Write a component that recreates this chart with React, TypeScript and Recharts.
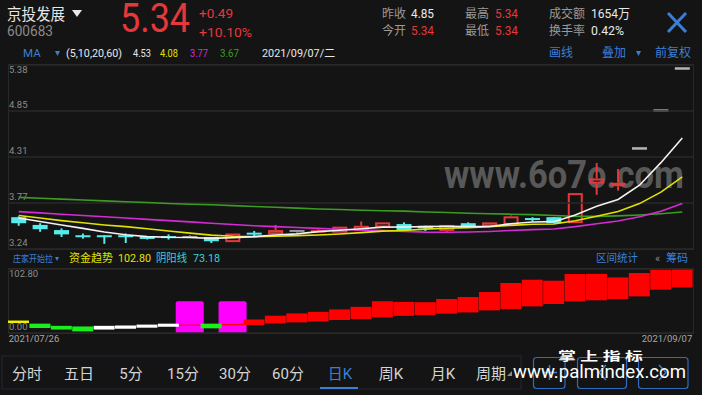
import React from 'react';
import { ComposedChart, Bar, Line, XAxis, YAxis, ReferenceLine, Cell } from 'recharts';

// ---------- data ----------
const dates = [
  '2021/07/26', '2021/07/27', '2021/07/28', '2021/07/29', '2021/07/30',
  '2021/08/02', '2021/08/03', '2021/08/04', '2021/08/05', '2021/08/06',
  '2021/08/09', '2021/08/10', '2021/08/11', '2021/08/12', '2021/08/13',
  '2021/08/16', '2021/08/17', '2021/08/18', '2021/08/19', '2021/08/20',
  '2021/08/23', '2021/08/24', '2021/08/25', '2021/08/26', '2021/08/27',
  '2021/08/30', '2021/08/31', '2021/09/01', '2021/09/02', '2021/09/03',
  '2021/09/06', '2021/09/07',
];
const opens = [3.61, 3.52, 3.46, 3.40, 3.40, 3.40, 3.38, 3.39, 3.38, 3.38, 3.32, 3.43, 3.41, 3.45, 3.45, 3.43, 3.45, 3.49, 3.53, 3.51, 3.45, 3.54, 3.50, 3.52, 3.60, 3.61, 3.54, 4.00, 3.97, 4.41, 4.85, 5.34];
const highs = [3.62, 3.54, 3.48, 3.42, 3.40, 3.42, 3.38, 3.41, 3.40, 3.38, 3.42, 3.45, 3.52, 3.46, 3.47, 3.50, 3.56, 3.55, 3.55, 3.51, 3.52, 3.55, 3.55, 3.63, 3.61, 3.61, 3.89, 4.24, 4.17, 4.41, 4.85, 5.34];
const lows = [3.51, 3.44, 3.38, 3.36, 3.30, 3.31, 3.35, 3.35, 3.37, 3.31, 3.32, 3.38, 3.41, 3.43, 3.44, 3.43, 3.45, 3.49, 3.46, 3.45, 3.44, 3.50, 3.50, 3.52, 3.56, 3.54, 3.54, 3.87, 3.92, 4.41, 4.85, 5.34];
const closes = [3.54, 3.47, 3.41, 3.39, 3.38, 3.38, 3.36, 3.37, 3.38, 3.33, 3.42, 3.42, 3.46, 3.45, 3.46, 3.50, 3.51, 3.55, 3.46, 3.48, 3.52, 3.50, 3.55, 3.62, 3.58, 3.54, 3.89, 4.06, 4.01, 4.41, 4.85, 5.34];

const ma5 = [3.60, 3.56, 3.52, 3.48, 3.438, 3.406, 3.384, 3.376, 3.374, 3.364, 3.372, 3.384, 3.402, 3.416, 3.442, 3.458, 3.476, 3.494, 3.496, 3.50, 3.504, 3.502, 3.502, 3.534, 3.554, 3.558, 3.636, 3.738, 3.816, 3.982, 4.244, 4.53];
const ma10 = [3.63, 3.60, 3.57, 3.545, 3.52, 3.50, 3.475, 3.45, 3.425, 3.401, 3.389, 3.384, 3.389, 3.395, 3.403, 3.415, 3.430, 3.448, 3.456, 3.471, 3.481, 3.489, 3.498, 3.515, 3.527, 3.531, 3.569, 3.620, 3.675, 3.768, 3.901, 4.08];
const ma20 = [3.675, 3.66, 3.645, 3.63, 3.615, 3.60, 3.585, 3.57, 3.555, 3.54, 3.525, 3.51, 3.50, 3.49, 3.48, 3.47, 3.46, 3.455, 3.445, 3.436, 3.435, 3.437, 3.444, 3.455, 3.465, 3.473, 3.50, 3.534, 3.566, 3.615, 3.68, 3.77];
const ma60 = [3.84, 3.83, 3.82, 3.81, 3.80, 3.79, 3.78, 3.77, 3.76, 3.755, 3.745, 3.735, 3.725, 3.715, 3.705, 3.70, 3.69, 3.685, 3.68, 3.67, 3.665, 3.655, 3.65, 3.645, 3.64, 3.63, 3.62, 3.62, 3.625, 3.635, 3.65, 3.67];

const priceTicks = [5.38, 4.845, 4.31, 3.775, 3.24];
const priceTickLabels = ['5.38', '4.85', '4.31', '3.77', '3.24'];

const fundTrend = [20, 15, 11.5, 10.5, 11.5, 12, 13.5, 15, 13.5, 15, 14.5, 21.8, 27.8, 31.5, 34, 37.9, 42, 51, 50, 49.5, 54.6, 57.8, 65.8, 80.3, 85.6, 84, 94.8, 95, 89.3, 96.4, 101.7, 102.8];
const yinYang = [16, 8, 5.5, 2.6, 5.5, 7, 8.5, 10, 12, 7.5, 12.5, 12.8, 15.4, 17, 18.5, 20.9, 22.5, 25, 27.5, 29, 31, 33, 36.3, 38.5, 42.7, 46.6, 50.7, 52.5, 54.6, 58.8, 69.5, 73.18];
const bandState = ['start', 'fall', 'fall', 'fall', 'hold', 'hold', 'hold', 'hold', 'rise', 'fall', 'rise', 'rise', 'rise', 'rise', 'rise', 'rise', 'rise', 'rise', 'rise', 'rise', 'rise', 'rise', 'rise', 'rise', 'rise', 'rise', 'rise', 'rise', 'rise', 'rise', 'rise', 'rise'];
const startSignal = [0, 0, 0, 0, 0, 0, 0, 0, 1, 0, 1, 0, 0, 0, 0, 0, 0, 0, 0, 0, 0, 0, 0, 0, 0, 0, 0, 0, 0, 0, 0, 0];
const signalTop = 51;
const flowTicks = [102.8, 0];
const flowTickLabels = ['102.80', '0.00'];

const tabs = ['分时', '五日', '5分', '15分', '30分', '60分', '日K', '周K', '月K', '周期'];
const activeTab = '日K';

// ---------- styles ----------
const FONT = 'Roboto, "Noto Sans CJK SC", "Noto Sans", sans-serif';
const BG = '#141414';
const GRID = '#282828';
const BLUE = '#3a7fd6';
const RED = '#e5383a';
const CYAN = '#55ecec';
const WHITE = '#e8e8e8';
const AXIS_TXT = '#8c8c8c';
const stateColor: Record<string, string> = { start: '#f0f000', fall: '#19f019', hold: '#ffffff', rise: '#ff0000' };

const mainData = dates.map((d, i) => ({
  date: d, open: opens[i], high: highs[i], low: lows[i], close: closes[i],
  range: [lows[i], highs[i]], ma5: ma5[i], ma10: ma10[i], ma20: ma20[i], ma60: ma60[i],
}));
const flowData = dates.map((d, i) => ({
  date: d, band: [yinYang[i], fundTrend[i]], state: bandState[i],
  signal: startSignal[i] ? [0, signalTop] : null,
}));

const Candle = (props: any) => {
  const { x, y, width, height, payload } = props;
  const { open, close, high, low } = payload;
  const cx = x + width / 2;
  if (high === low || !height) {
    return <rect x={x} y={y - 1.2} width={width} height={2.5} fill="#b4b4b4" />;
  }
  const k = height / (high - low);
  const py = (v: number) => y + (high - v) * k;
  const top = py(Math.max(open, close));
  const bot = py(Math.min(open, close));
  if (close > open) {
    return (
      <g>
        <line x1={cx} x2={cx} y1={y} y2={top} stroke={RED} strokeWidth={2} />
        <line x1={cx} x2={cx} y1={bot} y2={y + height} stroke={RED} strokeWidth={2} />
        <rect x={x + 1} y={top + 1} width={width - 2} height={Math.max(bot - top - 2, 0.5)} fill="none" stroke={RED} strokeWidth={2} />
      </g>
    );
  }
  if (close < open) {
    return (
      <g>
        <line x1={cx} x2={cx} y1={y} y2={y + height} stroke={CYAN} strokeWidth={2} />
        <rect x={x} y={top} width={width} height={Math.max(bot - top, 2)} fill={CYAN} />
      </g>
    );
  }
  return (
    <g>
      <line x1={cx} x2={cx} y1={y} y2={y + height} stroke="#9a9a9a" strokeWidth={1.5} />
      <rect x={x} y={top - 1} width={width} height={2} fill="#9a9a9a" />
    </g>
  );
};

const SignalBox = (props: any) => {
  const { x, y, width, height } = props;
  if (!height) return null;
  const cx = x + width / 2;
  return <rect x={cx - 14} y={y} width={28} height={height + 1} rx={2} fill="#ff00ff" />;
};

const EdgeLabel = (props: any) => {
  const { viewBox, text, below } = props;
  if (!viewBox) return null;
  return (
    <text x={viewBox.x + 1} y={below ? viewBox.y + 8 : viewBox.y - 3} fontSize={9.5} fill={AXIS_TXT} fontFamily={FONT}>
      {text}
    </text>
  );
};

const DateTick = (props: any) => {
  const { x, y, payload } = props;
  const first = payload.value === dates[0];
  return (
    <text x={first ? x - 10 : x + 10} y={y + 9} textAnchor={first ? 'start' : 'end'} fontSize={9.5} fill="#a8a8a8" fontFamily={FONT}>
      {payload.value}
    </text>
  );
};

function T(p: { x: number; y: number; s: number; c: string; children: any; a?: 'start' | 'middle' | 'end'; w?: number; b?: number; ls?: number }) {
  const extra: any = p.w ? { textLength: p.w, lengthAdjust: 'spacingAndGlyphs' } : {};
  return (
    <text x={p.x} y={p.y} fontSize={p.s} fill={p.c} textAnchor={p.a || 'start'} fontFamily={FONT} fontWeight={p.b || 400} letterSpacing={p.ls} {...extra}>
      {p.children}
    </text>
  );
}

export default function App() {
  const tabX = [27, 79, 131, 183, 235, 288, 340, 391, 443, 491];
  return (
    <div style={{ position: 'fixed', left: 0, top: 0, width: 702, height: 395, background: BG, overflow: 'hidden', fontFamily: FONT }}>
      {/* watermark behind chart */}
      <svg width={702} height={395} style={{ position: 'absolute', left: 0, top: 0 }}>
        <T x={444} y={188} s={38} c="#585858" w={240} b={700}>www.6o7o.com</T>
      </svg>
      {/* frames */}
      <div style={{ position: 'absolute', left: 8, top: 64, width: 684, height: 184, border: `1px solid ${GRID}` }} />
      <div style={{ position: 'absolute', left: 8, top: 268, width: 684, height: 64, border: `1px solid ${GRID}` }} />

      <div style={{ position: 'absolute', left: 0, top: 60 }}>
        <ComposedChart width={702} height={194} data={mainData} margin={{ top: 5, right: 9, bottom: 5, left: 8 }} barCategoryGap="15%">
          <XAxis dataKey="date" hide />
          <YAxis domain={[3.24, 5.38]} hide allowDataOverflow />
          {priceTicks.map((v, i) => (
            <ReferenceLine key={v} y={v} stroke={GRID} strokeWidth={1.5}
              label={<EdgeLabel text={priceTickLabels[i]} below={i === 0} />} />
          ))}
          <Bar dataKey="range" shape={<Candle />} isAnimationActive={false} />
          <Line dataKey="ma60" stroke="#3c9c22" strokeWidth={1.6} dot={false} isAnimationActive={false} />
          <Line dataKey="ma20" stroke="#d42cd4" strokeWidth={1.6} dot={false} isAnimationActive={false} />
          <Line dataKey="ma10" stroke="#e2e200" strokeWidth={1.6} dot={false} isAnimationActive={false} />
          <Line dataKey="ma5" stroke="#f2f2f2" strokeWidth={1.6} dot={false} isAnimationActive={false} />
        </ComposedChart>
      </div>

      <div style={{ position: 'absolute', left: 0, top: 264 }}>
        <ComposedChart width={702} height={85} data={flowData} margin={{ top: 5, right: 9, bottom: 0, left: 8 }} barCategoryGap={0} barGap={0}>
          <XAxis dataKey="date" height={16} axisLine={false} tickLine={false} tickSize={0} tickMargin={0}
            ticks={[dates[0], dates[dates.length - 1]]} interval={0} tick={<DateTick />} />
          <XAxis dataKey="date" xAxisId="sig" hide />
          <YAxis domain={[0, 102.8]} hide allowDataOverflow />
          {flowTicks.map((v, i) => (
            <ReferenceLine key={v} y={v} stroke={GRID} strokeWidth={1.5}
              label={<EdgeLabel text={flowTickLabels[i]} below={i === 0} />} />
          ))}
          <Bar dataKey="signal" xAxisId="sig" shape={<SignalBox />} isAnimationActive={false} />
          <Bar dataKey="band" isAnimationActive={false}>
            {flowData.map((d, i) => <Cell key={i} fill={stateColor[d.state]} />)}
          </Bar>
        </ComposedChart>
      </div>

      {/* overlay texts */}
      <svg width={702} height={395} style={{ position: 'absolute', left: 0, top: 0, pointerEvents: 'none' }}>
        <T x={7} y={20} s={16} c={WHITE} w={58}>京投发展</T>
        <polygon points="72,10 82,10 77,17" fill={WHITE} />
        <T x={7} y={36} s={14} c="#8a8a8a" w={46}>600683</T>
        <T x={120} y={32} s={41} c={RED} w={70}>5.34</T>
        <T x={199} y={18} s={13.5} c={RED} w={34}>+0.49</T>
        <T x={199} y={37} s={13.5} c={RED} w={53}>+10.10%</T>

        <T x={382} y={18} s={12} c="#9a9a9a">昨收</T>
        <T x={411} y={18} s={13} c={WHITE} w={23}>4.85</T>
        <T x={382} y={35} s={12} c="#9a9a9a">今开</T>
        <T x={411} y={35} s={13} c={RED} w={23}>5.34</T>
        <T x={465} y={18} s={12} c="#9a9a9a">最高</T>
        <T x={495} y={18} s={13} c={RED} w={23}>5.34</T>
        <T x={465} y={35} s={12} c="#9a9a9a">最低</T>
        <T x={495} y={35} s={13} c={RED} w={23}>5.34</T>
        <T x={549} y={18} s={12} c="#9a9a9a">成交额</T>
        <T x={591} y={18} s={13} c={WHITE} w={39}>1654万</T>
        <T x={549} y={35} s={12} c="#9a9a9a">换手率</T>
        <T x={591} y={35} s={13} c={WHITE} w={33}>0.42%</T>
        <line x1={668} y1={13} x2={686} y2={32} stroke={BLUE} strokeWidth={3} />
        <line x1={686} y1={13} x2={668} y2={32} stroke={BLUE} strokeWidth={3} />

        <T x={23} y={57} s={11.5} c={BLUE}>MA</T>
        <polygon points="55,51 60,51 57.5,56" fill={BLUE} />
        <T x={66} y={57} s={11.5} c={WHITE} w={56}>(5,10,20,60)</T>
        <T x={133} y={57} s={11.5} c={WHITE} w={18}>4.53</T>
        <T x={160} y={57} s={11.5} c="#e2e200" w={18}>4.08</T>
        <T x={190} y={57} s={11.5} c="#d42cd4" w={18}>3.77</T>
        <T x={220} y={57} s={11.5} c="#3c9c22" w={19}>3.67</T>
        <T x={262} y={57} s={11.5} c={WHITE} w={73}>2021/09/07/二</T>
        <T x={549} y={57} s={12} c={BLUE}>画线</T>
        <T x={602} y={57} s={12} c={BLUE}>叠加</T>
        <polygon points="636,51 641,51 638.5,56" fill={BLUE} />
        <T x={655} y={57} s={12} c={BLUE}>前复权</T>

        <T x={13} y={262} s={9.5} c={BLUE} w={40}>庄家开始拉</T>
        <polygon points="55,257 59,257 57,261" fill={BLUE} />
        <T x={69} y={262} s={11.5} c="#e2e200" w={44}>资金趋势</T>
        <T x={118} y={262} s={11.5} c="#e2e200" w={33}>102.80</T>
        <T x={156} y={262} s={11.5} c="#36d3dc" w={31}>阴阳线</T>
        <T x={193} y={262} s={11.5} c="#36d3dc" w={27}>73.18</T>
        <T x={596} y={262} s={11.5} c={BLUE} w={42}>区间统计</T>
        <T x={655} y={262} s={11} c="#8a8a8a">«</T>
        <T x={666} y={262} s={11.5} c={BLUE} w={22}>筹码</T>

        <rect x={2} y={356} width={519} height={33} fill="none" stroke="#25253a" strokeWidth={1} />
        {tabs.map((t, i) => (
          <T key={t} x={tabX[i]} y={379} s={15} c={t === activeTab ? BLUE : '#d5d5d5'} a="middle">{t}</T>
        ))}
        <rect x={320} y={387} width={38} height={2} fill={BLUE} />
        <polygon points="512,371 512,376 507,376" fill="#8a8a8a" />

        <rect x={533.5} y={357.5} width={31.5} height={31} rx={3} fill="none" stroke="#2d6cc0" strokeWidth={1.2} />
        <line x1={549.5} y1={365} x2={549.5} y2={380} stroke={BLUE} strokeWidth={1.5} />
        <line x1={542} y1={372.5} x2={557} y2={372.5} stroke={BLUE} strokeWidth={1.5} />
        <rect x={577.5} y={357.5} width={49} height={31} rx={3} fill="none" stroke="#2d6cc0" strokeWidth={1.2} />
        <polyline points="606,365 599,372.5 606,380" fill="none" stroke={BLUE} strokeWidth={1.5} />
        <rect x={638.5} y={357.5} width={49.5} height={31} rx={3} fill="none" stroke="#2d6cc0" strokeWidth={1.2} />
        <polyline points="659,365 666,372.5 659,380" fill="none" stroke={BLUE} strokeWidth={1.5} />

        <T x={558} y={361} s={12} c="#ffffff" b={700} w={85}>掌 上 指 标</T>
        <T x={513} y={378} s={18} c="#ffffff" w={173}>www.palmindex.com</T>
      </svg>
    </div>
  );
}
